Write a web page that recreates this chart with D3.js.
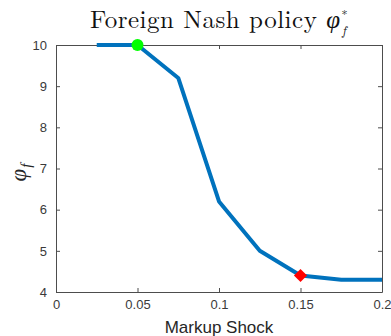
<!DOCTYPE html>
<html>
<head>
    <script src="https://d3js.org/d3.v7.min.js"></script>
    <style>
        body { margin: 0; background: #fff; }
        .tick text { font-family: "Liberation Sans", Arial, sans-serif; font-size: 13px; fill: #3a3a3a; }
    </style>
</head>
<body>
<div id="chart"></div>
<script>
    // Data
    const shocks = [0.025, 0.05, 0.075, 0.1, 0.125, 0.15, 0.175, 0.2];
    const policy = [10, 10, 9.2, 6.2, 5.0, 4.4, 4.3, 4.3];
    const xTicks = [0, 0.05, 0.1, 0.15, 0.2];
    const yTicks = [4, 5, 6, 7, 8, 9, 10];
    const greenPoint = [0.05, 10];
    const redPoint = [0.15, 4.4];

    const W = 391, H = 336;
    const margin = {top: 45, right: 9, bottom: 44, left: 56},
        width = W - margin.left - margin.right,
        height = H - margin.top - margin.bottom;

    const x = d3.scaleLinear().domain([0, 0.2]).range([0, width]);
    const y = d3.scaleLinear().domain([4, 10]).range([height, 0]);

    const svg = d3.select("#chart").append("svg")
        .attr("width", W)
        .attr("height", H);
    const g = svg.append("g")
        .attr("transform", "translate(" + margin.left + "," + margin.top + ")");

    const axisColor = "#4d4d4d";

    // Axes with inward ticks
    const xAxis = g.append("g")
        .attr("transform", "translate(0," + height + ")")
        .call(d3.axisBottom(x).tickValues(xTicks).tickSizeInner(-4).tickSizeOuter(0).tickPadding(8)
            .tickFormat(d => String(+d.toFixed(2))));
    const yAxis = g.append("g")
        .call(d3.axisLeft(y).tickValues(yTicks).tickSizeInner(-4).tickSizeOuter(0).tickPadding(9)
            .tickFormat(d3.format("d")));
    const xTop = g.append("g")
        .call(d3.axisTop(x).tickValues(xTicks).tickSizeInner(-4).tickSizeOuter(0).tickFormat(""));
    const yRight = g.append("g")
        .attr("transform", "translate(" + width + ",0)")
        .call(d3.axisRight(y).tickValues(yTicks).tickSizeInner(-4).tickSizeOuter(0).tickFormat(""));

    [xAxis, yAxis, xTop, yRight].forEach(a => {
        a.selectAll("path, line").attr("stroke", axisColor);
    });

    // Line
    const line = d3.line()
        .x((d, i) => x(shocks[i]))
        .y(d => y(d));
    g.append("path")
        .datum(policy)
        .attr("fill", "none")
        .attr("stroke", "#0072BD")
        .attr("stroke-width", 4)
        .attr("stroke-linejoin", "round")
        .attr("d", line);

    // Markers
    g.append("circle")
        .attr("cx", x(greenPoint[0]))
        .attr("cy", y(greenPoint[1]))
        .attr("r", 6)
        .attr("fill", "#00ff00");
    g.append("path")
        .attr("d", d3.symbol().type(d3.symbolDiamond2).size(110))
        .attr("transform", "translate(" + x(redPoint[0]) + "," + y(redPoint[1]) + ")")
        .attr("fill", "#ff0000");

    // Title
    const title = svg.append("text")
        .attr("x", margin.left + width / 2)
        .attr("y", 28)
        .attr("text-anchor", "middle")
        .style("font-family", "'Latin Modern Roman', 'Liberation Serif', 'DejaVu Serif', serif")
        .style("font-size", "25px")
        .style("letter-spacing", "0.5px")
        .attr("fill", "#111");
    title.append("tspan").text("Foreign Nash policy ");
    title.append("tspan").style("font-style", "italic").text("φ");
    title.append("tspan").attr("dy", -9).attr("dx", 1).style("font-size", "12px").text("*");
    title.append("tspan").attr("dy", 16).attr("dx", -6).style("font-size", "13px").style("font-style", "italic").text("f");

    // Axis labels
    svg.append("text")
        .attr("x", margin.left + width / 2)
        .attr("y", 333)
        .attr("text-anchor", "middle")
        .style("font-family", "'Liberation Sans', Arial, sans-serif")
        .style("font-size", "17px")
        .attr("fill", "#262626")
        .text("Markup Shock");

    const ylab = svg.append("text")
        .attr("transform", "translate(26," + (margin.top + height / 2 + 4) + ") rotate(-90)")
        .attr("text-anchor", "middle")
        .style("font-family", "'Liberation Serif', 'DejaVu Serif', serif")
        .style("font-size", "23px")
        .style("font-style", "italic")
        .attr("fill", "#262626");
    ylab.append("tspan").text("φ");
    ylab.append("tspan").attr("dy", 5).attr("dx", 1).style("font-size", "15px").text("f");
</script>
</body>
</html>
